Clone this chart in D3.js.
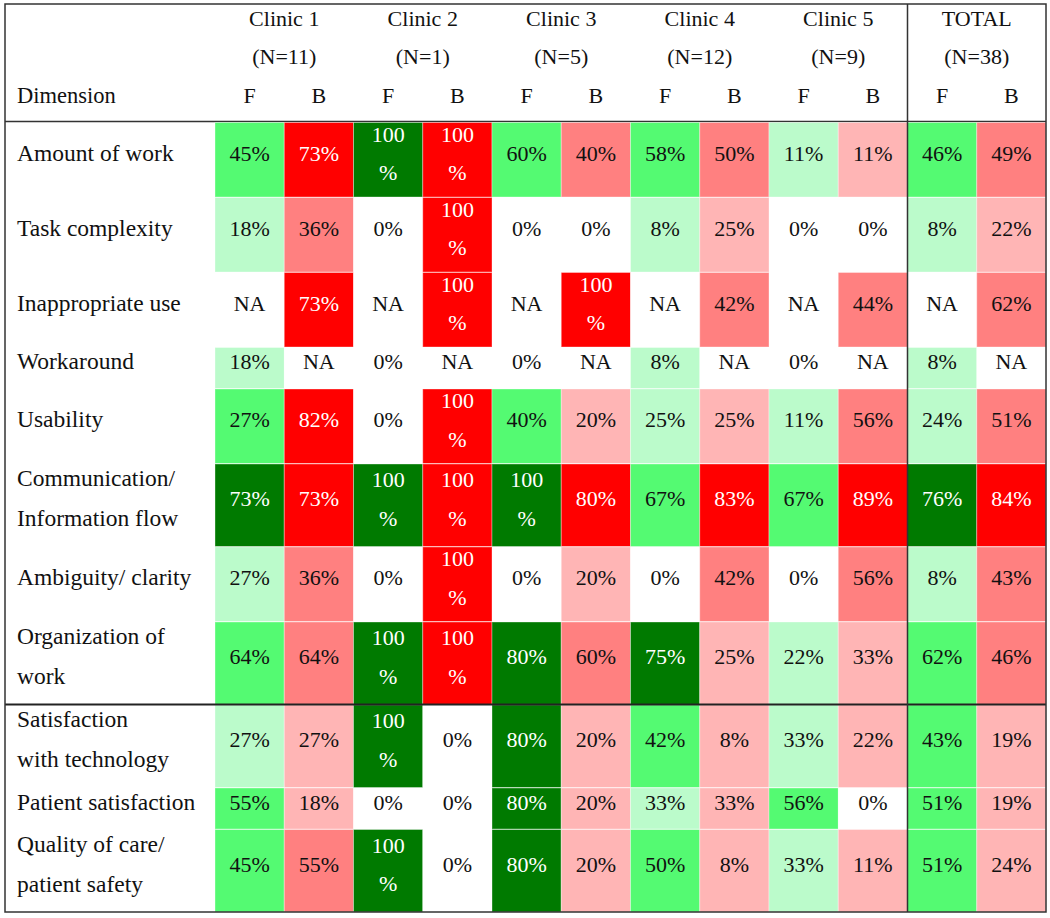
<!DOCTYPE html>
<html><head><meta charset="utf-8">
<script src="https://cdn.jsdelivr.net/npm/d3@7/dist/d3.min.js"></script>
<style>
body{margin:0;background:#fff}
svg{display:block}
text{font-family:"Liberation Serif","Times New Roman",serif;}
</style>
</head><body><svg id="chart" width="1050" height="918"></svg>
<script>
// ---------- data ----------
const clinics = ["Clinic 1","Clinic 2","Clinic 3","Clinic 4","Clinic 5","TOTAL"];
const clinicN = ["(N=11)","(N=1)","(N=5)","(N=12)","(N=9)","(N=38)"];
const measures = ["F","B"];
const dimensionHeader = "Dimension";
const dimensions = [
  ["Amount of work"],
  ["Task complexity"],
  ["Inappropriate use"],
  ["Workaround"],
  ["Usability"],
  ["Communication/","Information flow"],
  ["Ambiguity/ clarity"],
  ["Organization of","work"],
  ["Satisfaction","with technology"],
  ["Patient satisfaction"],
  ["Quality of care/","patient safety"]
];
// columns: C1 F, C1 B, C2 F, C2 B, C3 F, C3 B, C4 F, C4 B, C5 F, C5 B, TOTAL F, TOTAL B (null = NA)
const values = [
  [45,73,100,100,60,40,58,50,11,11,46,49],
  [18,36,0,100,0,0,8,25,0,0,8,22],
  [null,73,null,100,null,100,null,42,null,44,null,62],
  [18,null,0,null,0,null,8,null,0,null,8,null],
  [27,82,0,100,40,20,25,25,11,56,24,51],
  [73,73,100,100,100,80,67,83,67,89,76,84],
  [27,36,0,100,0,20,0,42,0,56,8,43],
  [64,64,100,100,80,60,75,25,22,33,62,46],
  [27,27,100,0,80,20,42,8,33,22,43,19],
  [55,18,0,0,80,20,33,33,56,0,51,19],
  [45,55,100,0,80,20,50,8,33,11,51,24]
];
// intensity band shown for each cell (0 none .. 3 strongest)
const bands = [
  [2,3,3,3,2,2,2,2,1,1,2,2],
  [1,2,0,3,0,0,1,1,0,0,1,1],
  [0,3,0,3,0,3,0,2,0,2,0,2],
  [1,0,0,0,0,0,1,0,0,0,1,0],
  [2,3,0,3,2,1,1,1,1,2,1,2],
  [3,3,3,3,3,3,2,3,2,3,3,3],
  [1,2,0,3,0,1,0,2,0,2,1,2],
  [2,2,3,3,3,2,3,1,1,1,2,2],
  [1,1,3,0,3,1,2,1,1,1,2,1],
  [2,1,0,0,3,1,1,1,2,0,2,1],
  [2,2,3,0,3,1,2,1,1,1,2,1]
];

// ---------- styles / layout ----------
const greenColors = d3.scaleOrdinal().domain([0,1,2,3]).range(["#ffffff","#bbfbcb","#54fa72","#007a00"]);
const redColors   = d3.scaleOrdinal().domain([0,1,2,3]).range(["#ffffff","#ffb5b5","#ff8080","#ff0000"]);
const svg = d3.select("#chart");
const L = 5, R = 1046, TOP = 4, HEADER_BOTTOM = 122;
const labelX = 17;
const linePitch = 38.5;
const labelFont = 23.5, cellFont = 22;

const colKeys = d3.range(clinics.length * measures.length);
const x = d3.scaleBand().domain(colKeys).range([215, R]);

// row heights depend on number of text lines
function cellLines(v){ return v === 100 ? 2 : 1; }
const rowHeights = dimensions.map((lab,i) => {
  const maxCell = d3.max(values[i], cellLines);
  if (lab.length === 2) return 83;
  return maxCell === 2 ? 75 : 41.5;
});
const rowTops = [];
rowHeights.reduce((acc,h,i)=>{ rowTops[i]=acc; return acc+h; }, HEADER_BOTTOM);
const BOTTOM = HEADER_BOTTOM + d3.sum(rowHeights);

function baselines(top, h, n, pitch){
  const c = top + h/2 + 1.5 + 0.34*cellFont - 7.5;
  return d3.range(n).map(k => c + (k - (n-1)/2)*pitch);
}

// header separator line (under cells)
svg.append("line").attr("x1",L).attr("x2",R).attr("y1",HEADER_BOTTOM-0.5).attr("y2",HEADER_BOTTOM-0.5)
  .attr("stroke","#333").attr("stroke-width",1.5);

// cells
const cells = [];
values.forEach((row,i)=>row.forEach((v,j)=>cells.push({i,j,v,band:bands[i][j],m:measures[j%2]})));
svg.append("g").selectAll("rect").data(cells).join("rect")
  .attr("x", d=>x(d.j)).attr("y", d=>rowTops[d.i]+0.5)
  .attr("width", x.bandwidth()).attr("height", d=>rowHeights[d.i]-0.5)
  .attr("fill", d=> d.m==="F" ? greenColors(d.band) : redColors(d.band))
  .attr("stroke", d=> d.band ? "rgba(255,255,255,0.35)" : "none").attr("stroke-width",1);

// cell texts
const tg = svg.append("g").attr("font-size", cellFont).attr("text-anchor","middle");
cells.forEach(d=>{
  const txt = d.v === null ? "NA" : d.v + "%";
  const lines = d.v === 100 ? ["100","%"] : [txt];
  const bl = baselines(rowTops[d.i], rowHeights[d.i], lines.length, linePitch);
  lines.forEach((t,k)=>{
    tg.append("text").attr("x", x(d.j)+x.bandwidth()/2).attr("y", bl[k])
      .attr("fill", d.band===3 ? "#ffffff" : "#111").text(t);
  });
});

// dimension labels
const lg = svg.append("g").attr("font-size", labelFont);
dimensions.forEach((lab,i)=>{
  const pitch = lab.length===2 ? 40 : linePitch;
  const bl = baselines(rowTops[i], rowHeights[i], lab.length, pitch);
  lab.forEach((t,k)=> lg.append("text").attr("x", labelX).attr("y", bl[k]).attr("fill","#111").text(t));
});

// header
const hb = baselines(TOP, HEADER_BOTTOM-TOP, 3, linePitch);
const hg = svg.append("g").attr("font-size", cellFont).attr("fill","#111").attr("text-anchor","middle");
clinics.forEach((c,ci)=>{
  const cx = x(ci*2) + x.bandwidth();
  hg.append("text").attr("x",cx).attr("y",hb[0]).text(c);
  hg.append("text").attr("x",cx).attr("y",hb[1]).text(clinicN[ci]);
});
colKeys.forEach(j=>{
  hg.append("text").attr("x", x(j)+x.bandwidth()/2).attr("y", hb[2]).text(measures[j%2]);
});
svg.append("text").attr("x",labelX).attr("y",hb[2]).attr("font-size",labelFont-1).attr("fill","#111").text(dimensionHeader);

// rule lines over cells
const sepY = rowTops[8];
svg.append("line").attr("x1",L).attr("x2",R).attr("y1",sepY).attr("y2",sepY).attr("stroke","#222").attr("stroke-width",2);
const vx = x(10);
svg.append("line").attr("x1",vx).attr("x2",vx).attr("y1",TOP).attr("y2",BOTTOM).attr("stroke","#333").attr("stroke-width",1.5);
svg.append("rect").attr("x",L).attr("y",TOP).attr("width",R-L).attr("height",BOTTOM-TOP)
  .attr("fill","none").attr("stroke","#333").attr("stroke-width",1.5);
</script>
</body></html>
